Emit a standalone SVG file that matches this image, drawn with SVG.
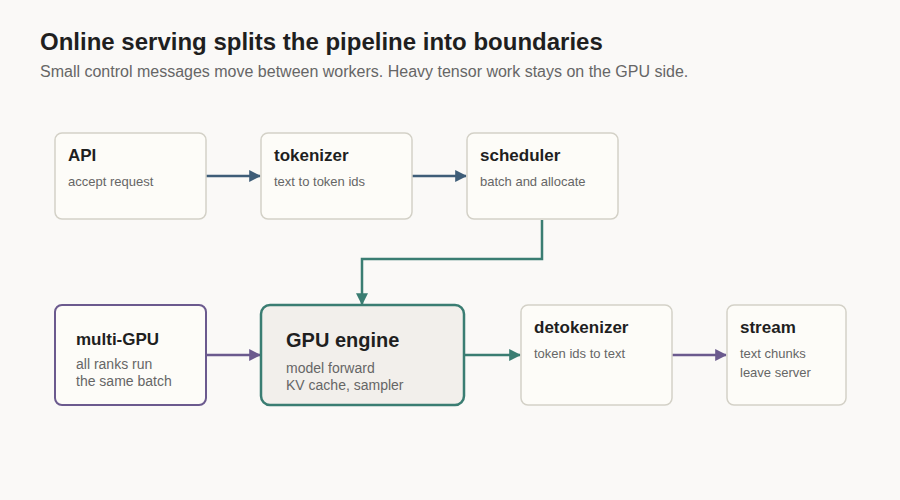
<svg xmlns="http://www.w3.org/2000/svg" width="900" height="500" viewBox="0 0 900 500">
<style>
text{font-family:"Liberation Sans",Arial,sans-serif}
.t{font-size:17px;font-weight:bold;fill:#1f1f1f}
.s{font-size:13px;fill:#666}
.m{font-size:14px;fill:#666}
.box{fill:#fdfcf8;stroke:#d3d1c7;stroke-width:1.5}
</style>
<defs>
<marker id="ab" viewBox="0 0 10 10" refX="9" refY="5" markerWidth="12" markerHeight="12" markerUnits="userSpaceOnUse" orient="auto"><path d="M0,0L10,5L0,10z" fill="#3e5d78"/></marker>
<marker id="ag" viewBox="0 0 10 10" refX="9" refY="5" markerWidth="12" markerHeight="12" markerUnits="userSpaceOnUse" orient="auto"><path d="M0,0L10,5L0,10z" fill="#3a7d72"/></marker>
<marker id="ap" viewBox="0 0 10 10" refX="9" refY="5" markerWidth="12" markerHeight="12" markerUnits="userSpaceOnUse" orient="auto"><path d="M0,0L10,5L0,10z" fill="#6b5a8e"/></marker>
</defs>
<rect width="900" height="500" fill="#faf9f7"/>
<text x="40" y="50" style="font-size:24px;font-weight:bold;fill:#1f1f1f">Online serving splits the pipeline into boundaries</text>
<text x="40" y="77" style="font-size:16px;fill:#666">Small control messages move between workers. Heavy tensor work stays on the GPU side.</text>
<g id="connectors" fill="none" stroke-width="2.5">
<path d="M206,176H260" stroke="#3e5d78" marker-end="url(#ab)"/>
<path d="M412,176H466" stroke="#3e5d78" marker-end="url(#ab)"/>
<path d="M542,220V259H362V304" stroke="#3a7d72" marker-end="url(#ag)"/>
<path d="M206,355H260" stroke="#6b5a8e" marker-end="url(#ap)"/>
<path d="M464,355H520" stroke="#3a7d72" marker-end="url(#ag)"/>
<path d="M672,355H726" stroke="#6b5a8e" marker-end="url(#ap)"/>
</g>
<g id="api"><rect class="box" x="55" y="133" width="151" height="86" rx="7"/><text class="t" x="68" y="161">API</text><text class="s" x="68" y="186">accept request</text></g>
<g id="tokenizer"><rect class="box" x="261" y="133" width="151" height="86" rx="7"/><text class="t" x="274" y="161">tokenizer</text><text class="s" x="274" y="186">text to token ids</text></g>
<g id="scheduler"><rect class="box" x="467" y="133" width="151" height="86" rx="7"/><text class="t" x="480" y="161">scheduler</text><text class="s" x="480" y="186">batch and allocate</text></g>
<g id="multigpu"><rect x="55" y="305" width="151" height="100" rx="7" fill="#fdfcf8" stroke="#6b5a8e" stroke-width="2"/><text class="t" x="76" y="345">multi-GPU</text><text class="m" x="76" y="369">all ranks run</text><text class="m" x="76" y="386">the same batch</text></g>
<g id="gpu"><rect x="261" y="305" width="203" height="100" rx="9" fill="#f2efeb" stroke="#3a7d72" stroke-width="2.5"/><text x="286" y="347" style="font-size:20px;font-weight:bold;fill:#1f1f1f">GPU engine</text><text class="m" x="286" y="373">model forward</text><text class="m" x="286" y="390">KV cache, sampler</text></g>
<g id="detokenizer"><rect class="box" x="521" y="305" width="151" height="100" rx="7"/><text class="t" x="534" y="333">detokenizer</text><text class="s" x="534" y="358">token ids to text</text></g>
<g id="stream"><rect class="box" x="727" y="305" width="119" height="100" rx="7"/><text class="t" x="740" y="333">stream</text><text class="s" x="740" y="358">text chunks</text><text class="s" x="740" y="377">leave server</text></g>
</svg>
